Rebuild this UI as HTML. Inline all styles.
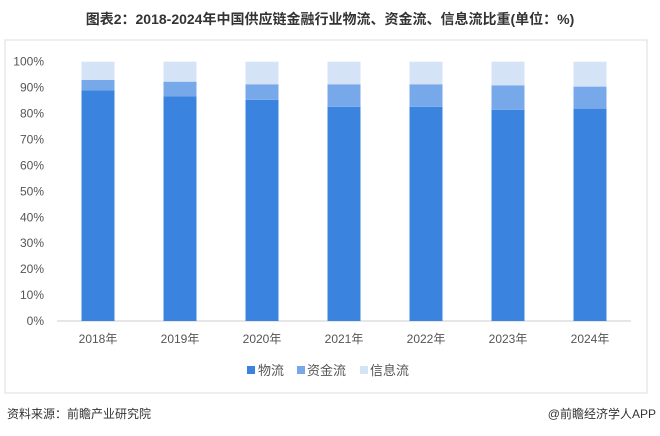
<!DOCTYPE html>
<html><head><meta charset="utf-8">
<style>
body{margin:0;background:#fff;font-family:"Liberation Sans","Noto Sans CJK SC",sans-serif;}
#wrap{position:relative;width:660px;height:436px;overflow:hidden;background:#fff}
</style></head>
<body>
<div id="wrap">
<svg id="svg" width="660" height="436" xmlns="http://www.w3.org/2000/svg">
<text x="330" y="24" text-anchor="middle" font-size="14" font-weight="bold" fill="#333" font-family="Liberation Sans,Noto Sans CJK SC,sans-serif">图表2：2018-2024年中国供应链金融行业物流、资金流、信息流比重(单位：%)</text>
<rect x="5" y="40" width="642" height="353" fill="none" stroke="#ddd"/>
<g id="plot"></g>
<g>
<rect x="247" y="366" width="8" height="8" fill="#3a84e0"/>
<text x="258" y="375" font-size="13" fill="#555">物流</text>
<rect x="297" y="366" width="8" height="8" fill="#77a9ea"/>
<text x="307" y="375" font-size="13" fill="#555">资金流</text>
<rect x="360" y="366" width="8" height="8" fill="#d4e3f6"/>
<text x="370" y="375" font-size="13" fill="#555">信息流</text>
</g>
<text x="7" y="418" font-size="12" fill="#333">资料来源：前瞻产业研究院</text>
<text x="656" y="418" font-size="12" fill="#333" text-anchor="end">@前瞻经济学人APP</text>
</svg>
</div>
<script>
const categories=["2018年","2019年","2020年","2021年","2022年","2023年","2024年"];
const logistics=[89,86.7,85.3,82.6,82.6,81.4,81.9];
const capital=[4,5.6,6,8.7,8.7,9.5,8.5];
const information=[7,7.7,8.7,8.7,8.7,9.1,9.6];
const yTicks=[0,10,20,30,40,50,60,70,80,90,100];
const NS="http://www.w3.org/2000/svg";
const plot=document.getElementById('plot');
const x0=57,x1=631,y0=321,y1=61.7;
const band=(x1-x0)/categories.length,bw=33;
const y=v=>y0-(v/100)*(y0-y1);
const xc=i=>x0+band*(i+0.5);
function mk(t,a){const e=document.createElementNS(NS,t);for(const k in a)e.setAttribute(k,a[k]);plot.appendChild(e);return e;}
yTicks.forEach(v=>{
  const t=mk('text',{x:44,y:y(v)+4,'text-anchor':'end','font-size':12,fill:'#555'});
  t.textContent=v+'%';
  
  
});
const ax=mk('line',{x1:x0,x2:x1,y1:y0,y2:y0,stroke:'#ccc'});


categories.forEach((c,i)=>{
  const segs=[[logistics[i],'#3a84e0','logistics'],[capital[i],'#77a9ea','capital'],[information[i],'#d4e3f6','information']];
  let base=0;
  segs.forEach(s=>{
    const r=mk('rect',{x:xc(i)-bw/2,y:y(base+s[0]),width:bw,height:y(base)-y(base+s[0]),fill:s[1]});
    
    
    base+=s[0];
  });
  const t=mk('text',{x:xc(i),y:343,'text-anchor':'middle','font-size':12,fill:'#555'});
  t.textContent=c;
  
  
});
</script>
</body></html>
